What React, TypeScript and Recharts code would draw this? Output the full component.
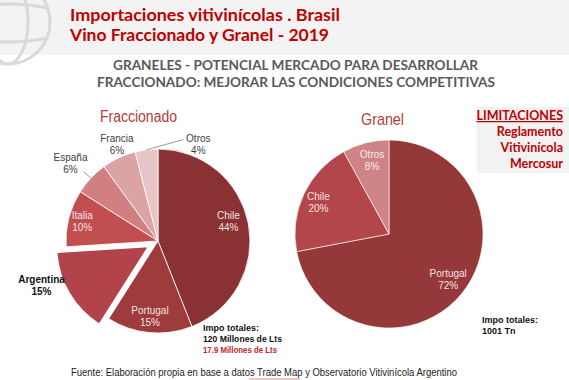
import React from 'react';
import { PieChart, Pie, Cell } from 'recharts';

// ---- Data ----
const fracNames = ['Chile', 'Portugal', 'Argentina', 'Italia', 'España', 'Francia', 'Otros'];
const fracValues = [44, 15, 15, 10, 6, 6, 4];
const granelNames = ['Portugal', 'Chile', 'Otros'];
const granelValues = [72, 20, 8];
const explodedName = 'Argentina';

// ---- Styles ----
const fracColors: Record<string, string> = {
  Chile: '#8A3233',
  Portugal: '#9E3B3D',
  Argentina: '#B3434A',
  Italia: '#C24F50',
  España: '#D08080',
  Francia: '#DCA3A4',
  Otros: '#E7C4C5',
};
const granelColors: Record<string, string> = {
  Portugal: '#943839',
  Chile: '#B3464A',
  Otros: '#CE8486',
};

type LabelCfg = { r: number; dx: number; dy: number; color: string; bold?: boolean; leader?: [number, number] };
const fracLabelCfg: Record<string, LabelCfg> = {
  Chile: { r: 0.79, dx: -1, dy: -7, color: '#F5E1E1' },
  Portugal: { r: 0.81, dx: -1, dy: 0, color: '#F5E1E1' },
  Italia: { r: 0.85, dx: 0, dy: -1.5, color: '#F5E1E1' },
  España: { r: 1.26, dx: -3, dy: 0, color: '#404040', leader: [13, 10] },
  Francia: { r: 1.125, dx: 3, dy: -4, color: '#404040' },
  Otros: { r: 1.1, dx: 53, dy: 2, color: '#404040', leader: [-15, -3] },
  Argentina: { r: 1.2, dx: -12, dy: -19, color: '#111', bold: true },
};
const granelLabelCfg: Record<string, LabelCfg> = {
  Portugal: { r: 0.79, dx: 2, dy: -3, color: '#F5E1E1' },
  Chile: { r: 0.83, dx: 0, dy: 0, color: '#F5E1E1' },
  Otros: { r: 0.81, dx: 2, dy: -1, color: '#F8ECEC' },
};

const FRAC_CX = 158;
const FRAC_CY = 241;
const FRAC_R = 92;
const EXPLODE = 11;
const GRAN_CX = 389;
const GRAN_CY = 234;
const GRAN_R = 94;

const fracData = fracNames.map((name, i) => ({ name, value: fracValues[i] }));
const granelData = granelNames.map((name, i) => ({ name, value: granelValues[i] }));

// mid angle of exploded slice (recharts convention, degrees ccw from 3 o'clock)
const totalFrac = fracValues.reduce((a, b) => a + b, 0);
const expIdx = fracNames.indexOf(explodedName);
const before = fracValues.slice(0, expIdx).reduce((a, b) => a + b, 0);
const expMid = 90 - ((before + fracValues[expIdx] / 2) / totalFrac) * 360;
const EXP_CX = FRAC_CX + EXPLODE * Math.cos((expMid * Math.PI) / 180);
const EXP_CY = FRAC_CY - EXPLODE * Math.sin((expMid * Math.PI) / 180);

const RAD = Math.PI / 180;
const labelFont = '"Liberation Sans", Arial, sans-serif';

function makeLabel(cfgMap: Record<string, LabelCfg>, only: (n: string) => boolean, dcx: number, dcy: number, R: number) {
  return (props: any) => {
    const name: string = props.name ?? props.payload?.name;
    if (!only(name)) return null;
    const cfg = cfgMap[name];
    if (!cfg) return null;
    const cx = typeof props.cx === 'number' ? props.cx : dcx;
    const cy = typeof props.cy === 'number' ? props.cy : dcy;
    const a = props.midAngle as number;
    const x = cx + R * cfg.r * Math.cos(-a * RAD) + cfg.dx;
    const y = cy + R * cfg.r * Math.sin(-a * RAD) + cfg.dy;
    const ex = cx + R * Math.cos(-a * RAD);
    const ey = cy + R * Math.sin(-a * RAD);
    const value = props.value ?? props.payload?.value;
    return (
      <g key={`lbl-${name}`}>
        {cfg.leader && (
          <line x1={x + cfg.leader[0]} y1={y + cfg.leader[1]} x2={ex} y2={ey} stroke="#7F7F7F" strokeWidth={0.8} />
        )}
        <text
          x={x}
          y={y - 1}
          textAnchor="middle"
          fill={cfg.color}
          fontSize={10}
          fontWeight={cfg.bold ? 700 : 400}
          fontFamily={labelFont}
        >
          {name}
        </text>
        <text
          x={x}
          y={y + 11}
          textAnchor="middle"
          fill={cfg.color}
          fontSize={10}
          fontWeight={cfg.bold ? 700 : 400}
          fontFamily={labelFont}
        >
          {`${value}%`}
        </text>
      </g>
    );
  };
}

const titleFont = 'Lato, "Open Sans", sans-serif';

export default function App() {
  return (
    <div style={{ position: 'absolute', left: 0, top: 0, width: 569, height: 380, background: '#fff', overflow: 'hidden' }}>
      <svg width={569} height={380} style={{ position: 'absolute', left: 0, top: 0 }}>
        <rect x={0} y={0} width={569} height={55} fill="#F3F3F3" />
        {/* globe watermark */}
        <g fill="none" stroke="#D9D9D9" strokeWidth={3}>
          <circle cx={8} cy={22} r={42} />
          <ellipse cx={8} cy={22} rx={20} ry={42} />
          <path d="M -32 8 Q 8 0 48 8" />
          <path d="M -32 38 Q 8 46 48 38" />
        </g>
        <rect x={477} y={107} width={92} height={66} fill="#F2F2F2" />
      </svg>
      <div style={{ position: 'absolute', left: 0, top: 0 }}>
        <PieChart width={569} height={380} margin={{ top: 0, right: 0, bottom: 0, left: 0 }}>
          <Pie
            data={fracData}
            dataKey="value"
            nameKey="name"
            cx={FRAC_CX}
            cy={FRAC_CY}
            outerRadius={FRAC_R}
            startAngle={90}
            endAngle={-270}
            stroke="#FFFFFF"
            strokeWidth={0.8}
            isAnimationActive={false}
            labelLine={false}
            label={makeLabel(fracLabelCfg, (n) => n !== explodedName, FRAC_CX, FRAC_CY, FRAC_R)}
          >
            {fracData.map((d) => (
              <Cell
                key={d.name}
                fill={d.name === explodedName ? 'transparent' : fracColors[d.name]}
                stroke={d.name === explodedName ? 'none' : '#FFFFFF'}
              />
            ))}
          </Pie>
          <Pie
            data={fracData}
            dataKey="value"
            nameKey="name"
            cx={EXP_CX}
            cy={EXP_CY}
            outerRadius={FRAC_R}
            startAngle={90}
            endAngle={-270}
            stroke="#FFFFFF"
            strokeWidth={1.5}
            isAnimationActive={false}
            labelLine={false}
            label={makeLabel(fracLabelCfg, (n) => n === explodedName, EXP_CX, EXP_CY, FRAC_R)}
          >
            {fracData.map((d) => (
              <Cell
                key={d.name}
                fill={d.name === explodedName ? fracColors[d.name] : 'transparent'}
                stroke={d.name === explodedName ? '#FFFFFF' : 'none'}
              />
            ))}
          </Pie>
          <Pie
            data={granelData}
            dataKey="value"
            nameKey="name"
            cx={GRAN_CX}
            cy={GRAN_CY}
            outerRadius={GRAN_R}
            startAngle={90}
            endAngle={-270}
            stroke="#FFFFFF"
            strokeWidth={0.6}
            isAnimationActive={false}
            labelLine={false}
            label={makeLabel(granelLabelCfg, () => true, GRAN_CX, GRAN_CY, GRAN_R)}
          >
            {granelData.map((d) => (
              <Cell key={d.name} fill={granelColors[d.name]} />
            ))}
          </Pie>
        </PieChart>
      </div>
      <svg width={569} height={380} style={{ position: 'absolute', left: 0, top: 0, pointerEvents: 'none' }}>
        <g fontFamily={titleFont} fontWeight={700}>
          <text x={70} y={21} fill="#C00000" fontSize={17.5} textLength={270} lengthAdjust="spacingAndGlyphs">
            Importaciones vitivinícolas . Brasil
          </text>
          <text x={70} y={41} fill="#C00000" fontSize={17.5} textLength={259} lengthAdjust="spacingAndGlyphs">
            Vino Fraccionado y Granel - 2019
          </text>
          <text x={113} y={70} fill="#595959" fontSize={14} textLength={365} lengthAdjust="spacingAndGlyphs">
            GRANELES - POTENCIAL MERCADO PARA DESARROLLAR
          </text>
          <text x={97} y={87} fill="#595959" fontSize={14} textLength={398} lengthAdjust="spacingAndGlyphs">
            FRACCIONADO: MEJORAR LAS CONDICIONES COMPETITIVAS
          </text>
          <g fill="#C00000" fontSize={12.5} textAnchor="end">
            <text x={563} y={120} textDecoration="underline">LIMITACIONES</text>
            <text x={563} y={136}>Reglamento</text>
            <text x={563} y={152}>Vitivinícola</text>
            <text x={563} y={168}>Mercosur</text>
          </g>
        </g>
        <g fontFamily={labelFont}>
          <text x={100} y={122} fill="#B83A3A" fontSize={16} textLength={77} lengthAdjust="spacingAndGlyphs">Fraccionado</text>
          <text x={361} y={125} fill="#B83A3A" fontSize={17} textLength={43} lengthAdjust="spacingAndGlyphs">Granel</text>
        </g>
        <g fontFamily={labelFont} fontWeight={700} fontSize={9}>
          <text x={203} y={331} fill="#111">Impo totales:</text>
          <text x={203} y={342} fill="#111" textLength={79} lengthAdjust="spacingAndGlyphs">120 Millones de Lts</text>
          <text x={203} y={353} fill="#C0282D" fontSize={8.5} textLength={74} lengthAdjust="spacingAndGlyphs">17.9 Millones de Lts</text>
          <text x={482} y={323} fill="#111">Impo totales:</text>
          <text x={482} y={334} fill="#111">1001 Tn</text>
        </g>
        <text x={71} y={376} fontFamily={labelFont} fontSize={10.5} fill="#222" textLength={386} lengthAdjust="spacingAndGlyphs">
          Fuente: Elaboración propia en base a datos Trade Map y Observatorio Vitivinícola Argentino
        </text>
        <line x1={249} y1={379} x2={300} y2={379} stroke="#E09090" strokeWidth={1.2} />
      </svg>
    </div>
  );
}
